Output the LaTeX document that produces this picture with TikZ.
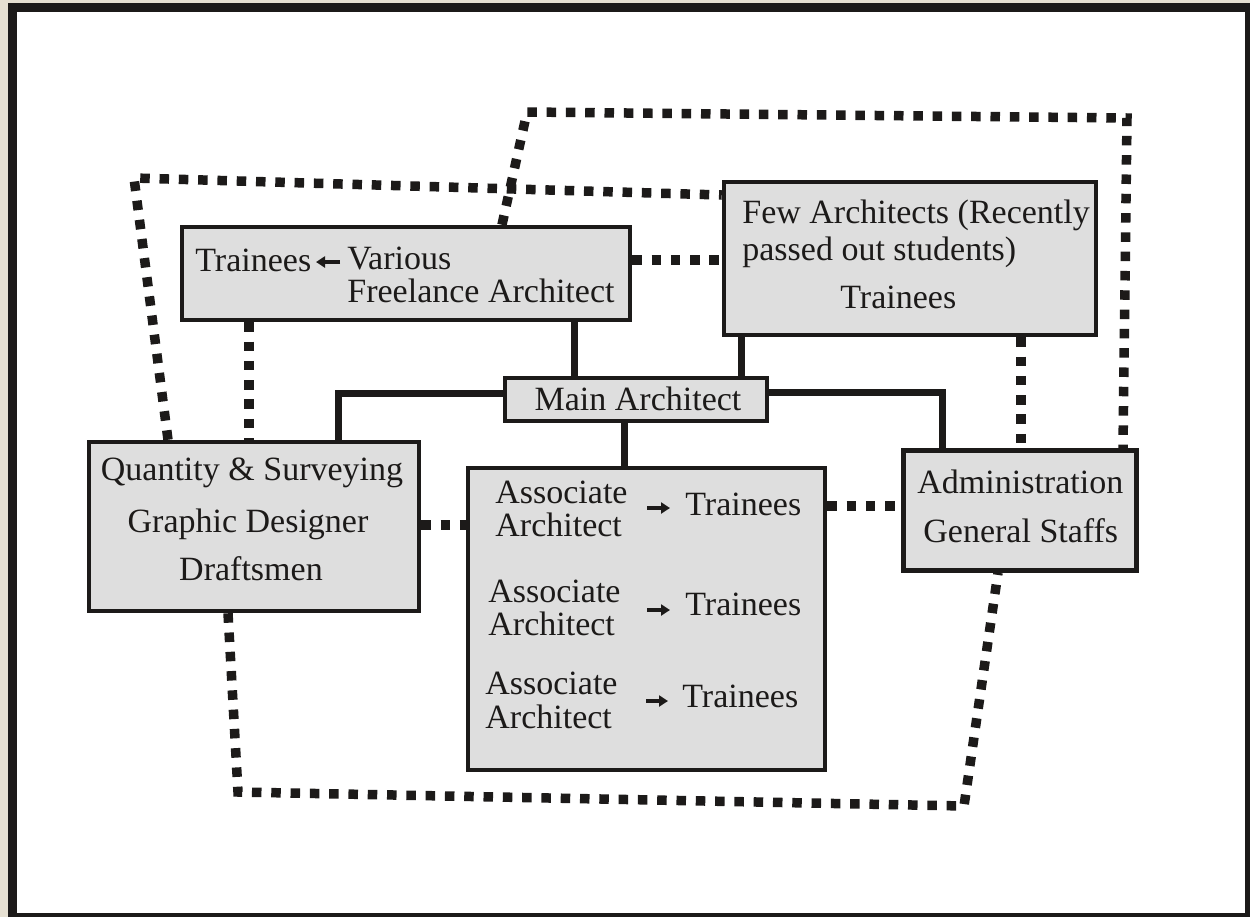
\documentclass[tikz,border=0pt]{standalone}
\usepackage{fontspec}
\setmainfont{Liberation Serif}
\usetikzlibrary{arrows.meta}
\definecolor{beige}{HTML}{E6E0D2}
\definecolor{ink}{HTML}{1C1A19}
\definecolor{boxgray}{HTML}{DEDEDE}
\begin{document}
\begin{tikzpicture}[x=0.5pt,y=-0.5pt,
  box/.style={draw=ink, fill=boxgray, line width=2.25pt, inner sep=0pt},
  txt/.style={inner sep=0pt, text=ink, font=\fontsize{17}{20}\selectfont},
  conn/.style={draw=ink, line width=3.5pt, line join=miter},
  dotline/.style={draw=ink, line width=4.75pt, dash pattern=on 4.75pt off 4.9pt, line cap=butt},
  smallarr/.style={draw=ink, line width=1.6pt, -{Triangle[length=4.5pt,width=5.5pt]}}]
\useasboundingbox (0,0) rectangle (1250,917);
\fill[beige] (0,0) rectangle (1250,917);
\fill[ink] (8,3) rectangle (1250,917);
\fill[white] (17,12) rectangle (1245,913);

% boxes
\node[box, minimum width=224pt, minimum height=46.5pt] (FL) at (406,273.5) {};
\node[box, minimum width=186pt, minimum height=76.5pt] (FEW) at (910,258.5) {};
\node[box, minimum width=131pt, minimum height=21.5pt] (MAIN) at (636,399.5) {};
\node[box, minimum width=165pt, minimum height=84.5pt] (QS) at (254,526.5) {};
\node[box, minimum width=178.5pt, minimum height=151pt] (AS) at (646.5,619) {};
\node[box, minimum width=116.5pt, minimum height=60pt] (AD) at (1020,510.5) {};

% texts
\node[txt, anchor=base west] (fl1) at (195,271) {Trainees};
\node[txt, anchor=base west] (fl2) at (347,269) {Various};
\node[txt, anchor=base west] (fl3) at (347,302) {Freelance Architect};
\node[txt, anchor=base west] (fw1) at (742,223) {Few Architects (Recently};
\node[txt, anchor=base west] (fw2) at (742,260) {passed out students)};
\node[txt, anchor=base west] (fw3) at (840,308) {Trainees};
\node[txt, anchor=base] (mn) at (638,410) {Main Architect};
\node[txt, anchor=base] (q1) at (252,480) {Quantity \& Surveying};
\node[txt, anchor=base] (q2) at (248,532) {Graphic Designer};
\node[txt, anchor=base] (q3) at (251,580) {Draftsmen};
\node[txt, anchor=base west] (a1) at (495,503) {Associate};
\node[txt, anchor=base west] (a2) at (495,536) {Architect};
\node[txt, anchor=base west] (t1) at (685,515) {Trainees};
\node[txt, anchor=base west] (a3) at (488,602) {Associate};
\node[txt, anchor=base west] (a4) at (488,635) {Architect};
\node[txt, anchor=base west] (t2) at (685,615) {Trainees};
\node[txt, anchor=base west] (a5) at (485,694) {Associate};
\node[txt, anchor=base west] (a6) at (485,728) {Architect};
\node[txt, anchor=base west] (t3) at (682,707) {Trainees};
\node[txt, anchor=base west] (d1) at (917,493) {Administration};
\node[txt, anchor=base west] (d2) at (923,542) {General Staffs};

% small arrows
\coordinate (s1) at (340,262); \coordinate (e1) at (316,262);
\coordinate (s2) at (647,508); \coordinate (e2) at (670,508);
\coordinate (s3) at (647,610); \coordinate (e3) at (670,610);
\coordinate (s4) at (646,701); \coordinate (e4) at (668,701);
\draw[smallarr] (s1) -- (e1);
\draw[smallarr] (s2) -- (e2);
\draw[smallarr] (s3) -- (e3);
\draw[smallarr] (s4) -- (e4);

% solid connectors
\draw[conn] (574,0 |- FL.south) -- (574,0 |- MAIN.north);
\draw[conn] (741,0 |- FEW.south) -- (741,0 |- MAIN.north);
\draw[conn] (624,0 |- MAIN.south) -- (624,0 |- AS.north);
\draw[conn] (MAIN.west |- 0,393) -- (338,393) -- (338,0 |- QS.north);
\draw[conn] (MAIN.east |- 0,392) -- (942,392) -- (942,0 |- AD.north);

% dotted connectors
\draw[dotline] (FL.east |- 0,260) -- (FEW.west |- 0,260);
\draw[dotline] (249,0 |- FL.south) -- (249,0 |- QS.north);
\draw[dotline] (QS.east |- 0,525) -- (AS.west |- 0,525);
\draw[dotline] (AS.east |- 0,506) -- (AD.west |- 0,506);
\draw[dotline] (1021,0 |- FEW.south) -- (1021,0 |- AD.north);

% large dotted loops
\draw[dotline] (168,0 |- QS.north) -- (134,178) -- (FEW.west |- 0,195);
\draw[dotline] (502,0 |- FL.north) -- (527,112) -- (1127,118) -- (1123,0 |- AD.north);
\draw[dotline] (228,0 |- QS.south) -- (238,792) -- (964,806) -- (998,0 |- AD.south);
\end{tikzpicture}
\end{document}
